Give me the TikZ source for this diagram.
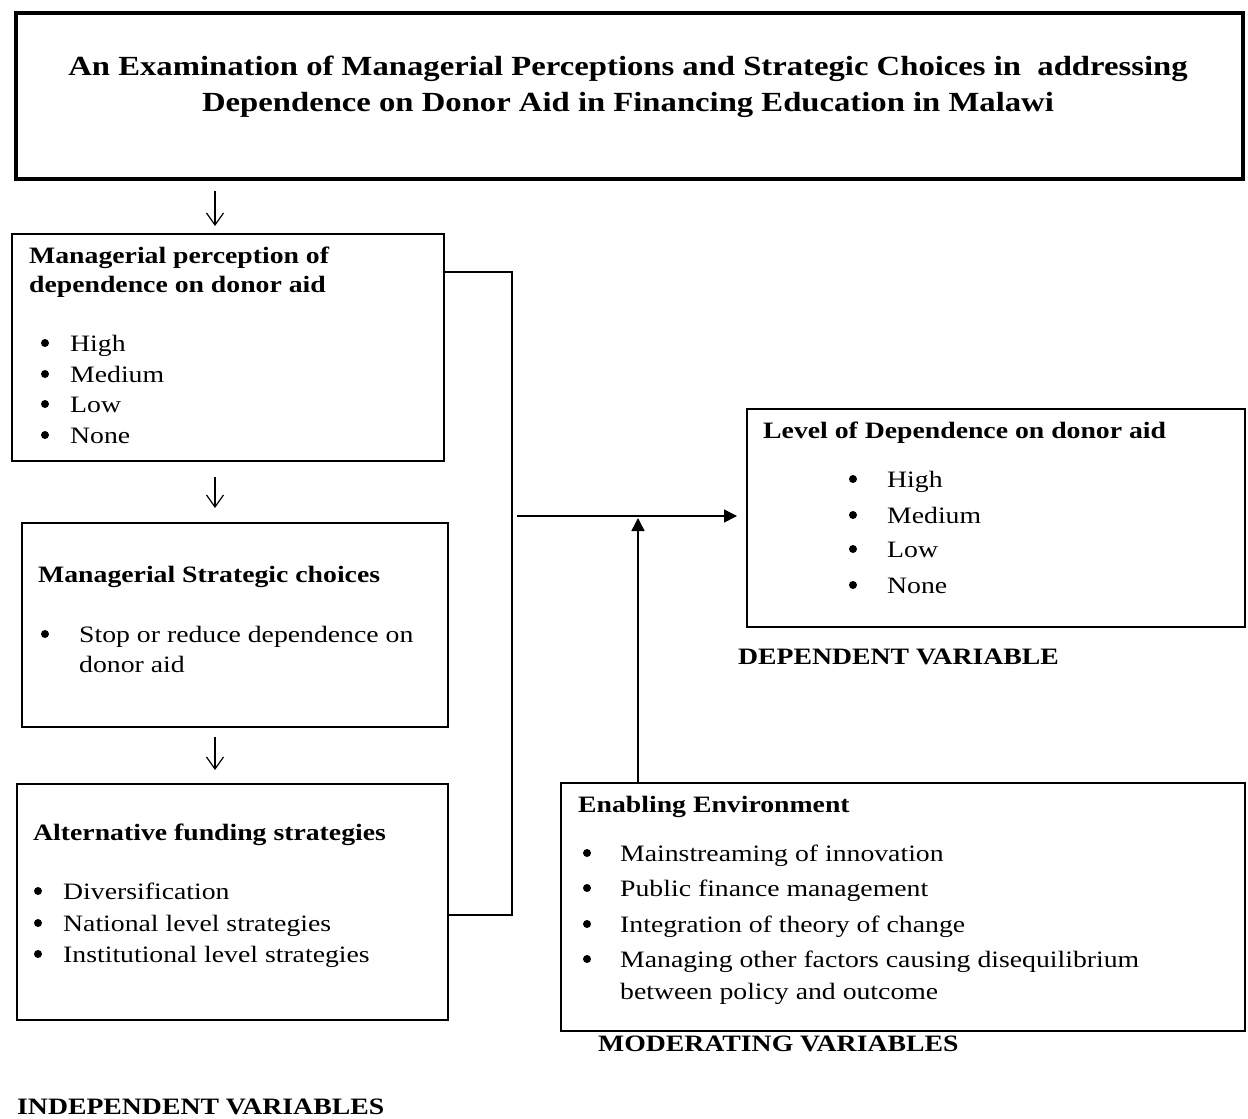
\documentclass[tikz,border=0pt]{standalone}
\usepackage{fontspec}
\setmainfont{Liberation Serif}[FakeStretch=1.18]
\usetikzlibrary{arrows.meta}
\newcommand{\bodyfont}{\fontsize{23.5}{30}\selectfont}
\newcommand{\ttlfont}{\fontsize{27.7}{36}\selectfont\bfseries}

\begin{document}
\begin{tikzpicture}
    [x=1pt,y=-1pt,
    %%%%%%%%%%%%%%%%%%%%%%%%%%%%%%
        box/.style={rectangle,draw=black,line width=1.5pt,inner sep=0pt,anchor=north west},
        item/.style={anchor=base west,inner sep=0pt,font=\bodyfont},
        head/.style={item,font=\bodyfont\bfseries},
        dot/.style={circle,fill=black,inner sep=0pt,minimum size=8pt},
        down/.style={-{Straight Barb[length=12pt,width=17pt]},line width=1.2pt},
        tri/.style={-{Triangle[length=13pt,width=13pt]},line width=1.5pt},
        conn/.style={line width=1.5pt},
    ]%%%%%%%%%%%%%%%%%%%%%%%%%%%%%%
\useasboundingbox (0,0) rectangle (1248,1119);

% title
\node[box,line width=4pt,minimum width=1227pt,minimum height=166pt] (ttl) at (14,11) {};
\node[align=center,font=\ttlfont,inner sep=0pt] (ttltext) at (628,87)
    {An Examination of Managerial Perceptions and Strategic Choices in\ \ addressing\\
     Dependence on Donor Aid in Financing Education in Malawi};

% left column
\node[box,minimum width=432pt,minimum height=227pt] (perc) at (11,233) {};
\node[head] (perch1) at (29,263) {Managerial perception of};
\node[head] (perch2) at (29,292) {dependence on donor aid};
\foreach \t/\y [count=\i] in {High/351, Medium/382, Low/412, None/443}{
    \node[item] (pi\i) at (70,\y) {\t};
    \node[dot] (pb\i) at (45,\y-8) {};
}

\node[box,minimum width=426pt,minimum height=204pt] (strat) at (21,522) {};
\node[head] (strath) at (38,582) {Managerial Strategic choices};
\node[dot] (sb1) at (45,634) {};
\node[item] (si1) at (79,642) {Stop or reduce dependence on};
\node[item] (si2) at (79,672) {donor aid};

\node[box,minimum width=431pt,minimum height=236pt] (alt) at (16,783) {};
\node[head] (alth) at (33,840) {Alternative funding strategies};
\foreach \t/\y [count=\i] in {Diversification/899, National level strategies/931, Institutional level strategies/962}{
    \node[item] (ai\i) at (63,\y) {\t};
    \node[dot] (ab\i) at (38,\y-8) {};
}

\node[item,font=\bodyfont\bfseries] (indep) at (17,1114) {INDEPENDENT VARIABLES};

% right column
\node[box,minimum width=498pt,minimum height=218pt] (dv) at (746,408) {};
\node[head] (dvh) at (763,438) {Level of Dependence on donor aid};
\foreach \t/\y [count=\i] in {High/487, Medium/523, Low/557, None/593}{
    \node[item] (di\i) at (887,\y) {\t};
    \node[dot] (db\i) at (853,\y-8) {};
}
\node[item,font=\bodyfont\bfseries] (dep) at (738,664) {DEPENDENT VARIABLE};

\node[box,minimum width=684pt,minimum height=248pt] (env) at (560,782) {};
\node[head] (envh) at (578,812) {Enabling Environment};
\foreach \t/\y [count=\i] in {Mainstreaming of innovation/861, Public finance management/896, Integration of theory of change/932, Managing other factors causing disequilibrium/967}{
    \node[item] (ei\i) at (620,\y) {\t};
    \node[dot] (eb\i) at (587,\y-8) {};
}
\node[item] (ei5) at (620,999) {between policy and outcome};
\node[item,font=\bodyfont\bfseries] (mod) at (598,1051) {MODERATING VARIABLES};

% arrows
\coordinate (ax) at (215,0);
\draw[down,shorten <=10pt,shorten >=7pt] (ttl.south -| ax) -- (perc.north -| ax);
\draw[down,shorten <=15pt,shorten >=14pt] (perc.south -| ax) -- (strat.north -| ax);
\draw[down,shorten <=9pt,shorten >=13pt] (strat.south -| ax) -- (alt.north -| ax);

\coordinate (jt) at (512,272);
\coordinate (jb) at (512,915);
\draw[conn] (perc.east |- jt) -- (jt) -- (jb) -- (alt.east |- jb);

\coordinate (hs) at (517,516);
\draw[tri,shorten >=9pt] (hs) -- (dv.west |- hs);
\coordinate (up) at (638,518);
\draw[tri] (env.north -| up) -- (up);
\end{tikzpicture}
\end{document}
